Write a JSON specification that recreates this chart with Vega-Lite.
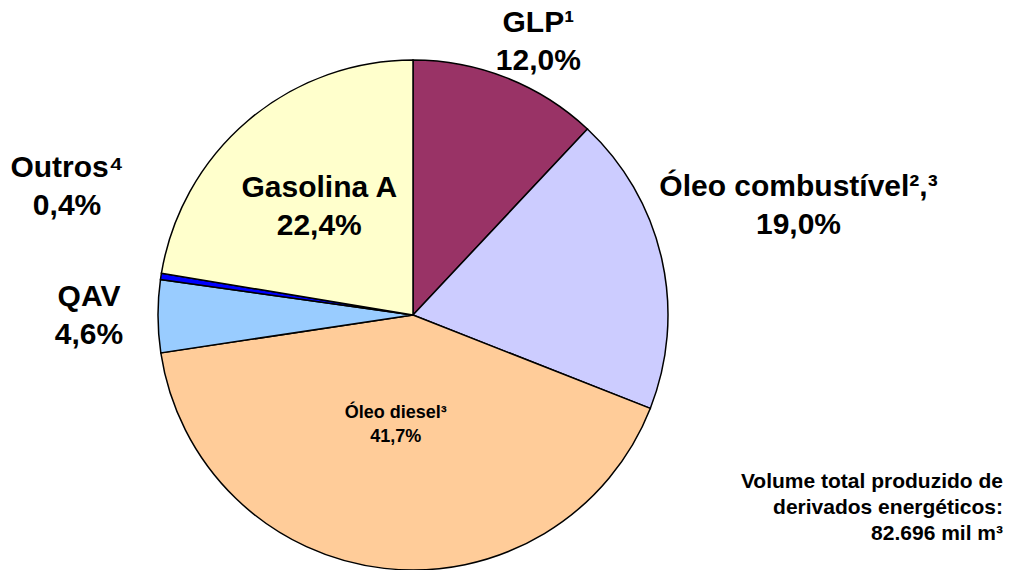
{
  "$schema": "https://vega.github.io/schema/vega-lite/v6.json",
  "width": 826,
  "height": 630,
  "autosize": {"type": "none"},
  "padding": {"left": 0, "top": 0, "right": 184, "bottom": 0},
  "background": "white",
  "config": {"view": {"stroke": null}, "font": "Liberation Sans"},
  "title": {
    "text": ["Volume total produzido de", "derivados energéticos:", "82.696 mil m³"],
    "orient": "bottom",
    "anchor": "end",
    "frame": "group",
    "align": "right",
    "offset": -159,
    "dx": 177,
    "fontSize": 21,
    "fontWeight": "bold",
    "lineHeight": 26,
    "color": "black",
    "font": "Liberation Sans"
  },
  "data": {
    "values": [
      {"cat": "GLP", "value": 12.0, "label": "GLP¹\n12,0%"},
      {"cat": "Óleo combustível", "value": 19.0, "label": "Óleo combustível²,³\n19,0%"},
      {"cat": "Óleo diesel", "value": 41.7, "label": "Óleo diesel³\n41,7%"},
      {"cat": "QAV", "value": 4.6, "label": "QAV\n4,6%"},
      {"cat": "Outros", "value": 0.4, "label": "Outros⁴\n0,4%"},
      {"cat": "Gasolina A", "value": 22.4, "label": "Gasolina A\n22,4%"}
    ]
  },
  "transform": [{"window": [{"op": "row_number", "as": "ord"}]}],
  "encoding": {
    "theta": {"field": "value", "type": "quantitative", "stack": true},
    "order": {"field": "ord", "type": "quantitative"}
  },
  "layer": [
    {
      "mark": {"type": "arc", "outerRadius": 255, "stroke": "black", "strokeWidth": 1.5},
      "encoding": {
        "color": {
          "field": "cat",
          "type": "nominal",
          "scale": {
            "domain": ["GLP", "Óleo combustível", "Óleo diesel", "QAV", "Outros", "Gasolina A"],
            "range": ["#993366", "#CCCCFF", "#FFCC99", "#99CCFF", "#0000FF", "#FFFFCC"]
          },
          "legend": null
        }
      }
    },
    {
      "mark": {
        "type": "text",
        "fontWeight": "bold",
        "align": "center",
        "baseline": "middle",
        "lineBreak": "\n",
        "fill": "black",
        "font": "Liberation Sans",
        "radius": {"expr": "datum.cat==='GLP'?300:datum.cat==='Óleo combustível'?390:datum.cat==='Óleo diesel'?108:datum.cat==='QAV'?324:datum.cat==='Outros'?350:145"},
        "dx": {"expr": "datum.cat==='GLP'?15:datum.cat==='Óleo combustível'?5:datum.cat==='Óleo diesel'?-5:0"},
        "dy": {"expr": "datum.cat==='GLP'?-13:datum.cat==='Óleo combustível'?-42:datum.cat==='Outros'?-94:datum.cat==='QAV'?-20:datum.cat==='Óleo diesel'?-9:-16"},
        "fontSize": {"expr": "datum.cat==='Óleo diesel'?18:30"},
        "lineHeight": {"expr": "datum.cat==='Óleo diesel'?24:38"}
      },
      "encoding": {
        "text": {"field": "label", "type": "nominal"},
        "detail": {"field": "cat", "type": "nominal"}
      }
    }
  ]
}
